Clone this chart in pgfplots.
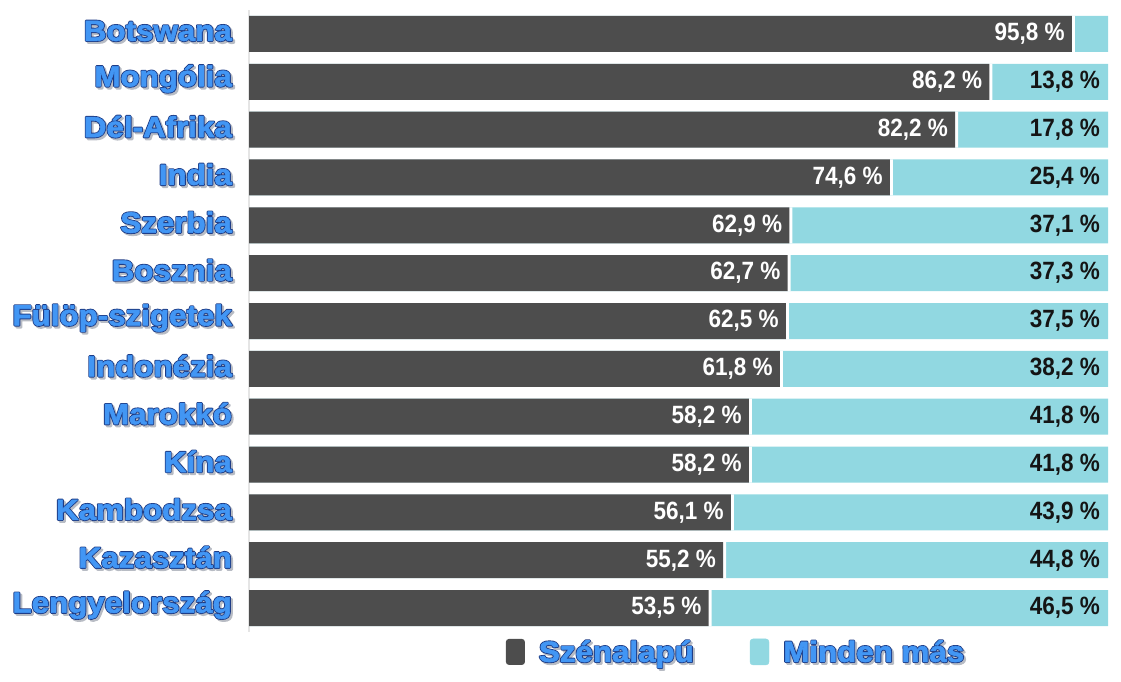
\documentclass[border=0pt]{standalone}
\usepackage{pgfplots}
\pgfplotsset{compat=1.18}
\usepackage{pgfplotstable}
\usepackage{fontspec}
\setmainfont{Liberation Sans}
\newfontface\labfont[FakeBold=2,FakeStretch=1.08]{Liberation Sans Bold}
\newfontface\outlinefont[FakeBold=8,FakeStretch=1.08]{Liberation Sans Bold}
\newfontface\valfont[FakeStretch=0.9]{Liberation Sans Bold}
\definecolor{darkbar}{HTML}{4D4D4D}
\definecolor{lightbar}{HTML}{91D8E1}
\definecolor{lblue}{HTML}{4296F4}
\definecolor{lnavy}{HTML}{1E3C86}
\definecolor{lshadow}{HTML}{B8BCC4}
\newsavebox\boxA
\newsavebox\boxB
\newsavebox\boxS
\newcommand\lab[1]{%
\sbox\boxS{\special{pdf:literal direct 1 j}\fontsize{29}{32}\outlinefont\color{lshadow}#1}%
\sbox\boxA{\special{pdf:literal direct 1 j}\fontsize{29}{32}\outlinefont\color{lnavy}#1}%
\sbox\boxB{\fontsize{29}{32}\labfont\color{lblue}#1}%
\makebox[\wd\boxA]{\makebox[0pt]{\hspace{4pt}\raisebox{-2pt}{\usebox\boxS}}\makebox[0pt]{\usebox\boxA}\makebox[0pt]{\usebox\boxB}}}

\pgfplotstableread{
idx dark light
0 95.8 4.2
1 86.2 13.8
2 82.2 17.8
3 74.6 25.4
4 62.9 37.1
5 62.7 37.3
6 62.5 37.5
7 61.8 38.2
8 58.2 41.8
9 58.2 41.8
10 56.1 43.9
11 55.2 44.8
12 53.5 46.5
}\datatable

\begin{document}
\begin{tikzpicture}[x=1pt,y=1pt,line join=round]
\useasboundingbox (0,0) rectangle (1121,-682);
\begin{axis}[
  at={(249pt,-10pt)}, anchor=north west,
  scale only axis, width=859pt, height=622pt,
  xbar, bar width=36pt, bar shift=0pt,
  xmin=0, xmax=100, ymin=-0.5, ymax=12.5, y dir=reverse,
  enlargelimits=false, clip=false,
  axis x line=none, axis y line*=left,
  y axis line style={draw=gray!20, line width=1.2pt},
  major tick length=0pt,
  /pgf/number format/assume math mode=true,
  ytick={0,...,12},
  yticklabels={\lab{Botswana},\lab{Mongólia},\lab{Dél-Afrika},\lab{India},\lab{Szerbia},\lab{Bosznia},\lab{Fülöp-szigetek},\lab{Indonézia},\lab{Marokkó},\lab{Kína},\lab{Kambodzsa},\lab{Kazasztán},\lab{Lengyelország}},
  yticklabel style={anchor=east, xshift=-17pt, yshift=2pt, inner sep=0pt},
  legend style={at={(0.567,-0.032)}, anchor=center, draw=none, fill=none,
    legend columns=2, inner sep=0pt,
    /tikz/every even column/.append style={column sep=54pt},
    cells={anchor=west}},
]
\addplot[fill=lightbar, draw=none, point meta=explicit,
  visualization depends on={\thisrow{light} \as \lv},
  nodes near coords={\ifdim\lv pt<5pt\else\pgfmathprintnumber[fixed,fixed zerofill,precision=1,use comma,assume math mode=true]{\pgfplotspointmeta}\ \%\fi},
  every node near coord/.style={anchor=east, xshift=-8pt, inner sep=0pt, text=black!92, font=\fontsize{25}{27}\valfont},
  forget plot]
  table[x expr=100, y=idx, meta=light]{\datatable};
\addplot[fill=white, draw=none, forget plot] table[x expr=\thisrow{dark}+0.35, y=idx]{\datatable};
\addplot[fill=darkbar, draw=none, point meta=explicit,
  nodes near coords={\pgfmathprintnumber[fixed,fixed zerofill,precision=1,use comma,assume math mode=true]{\pgfplotspointmeta}\ \%},
  every node near coord/.style={anchor=east, xshift=-7pt, inner sep=0pt, text=white, font=\fontsize{25}{27}\valfont},
  legend image code/.code={\fill[darkbar, rounded corners=3pt] (0pt,-13pt) rectangle (19pt,13pt);}]
  table[x=dark, y=idx, meta=dark]{\datatable};
\addlegendentry{\hspace{12pt}\lab{Szénalapú}}
\addlegendimage{legend image code/.code={\fill[lightbar, rounded corners=3pt] (0pt,-13pt) rectangle (19pt,13pt);}}
\addlegendentry{\hspace{12pt}\lab{Minden más}}
\end{axis}
\end{tikzpicture}
\end{document}
